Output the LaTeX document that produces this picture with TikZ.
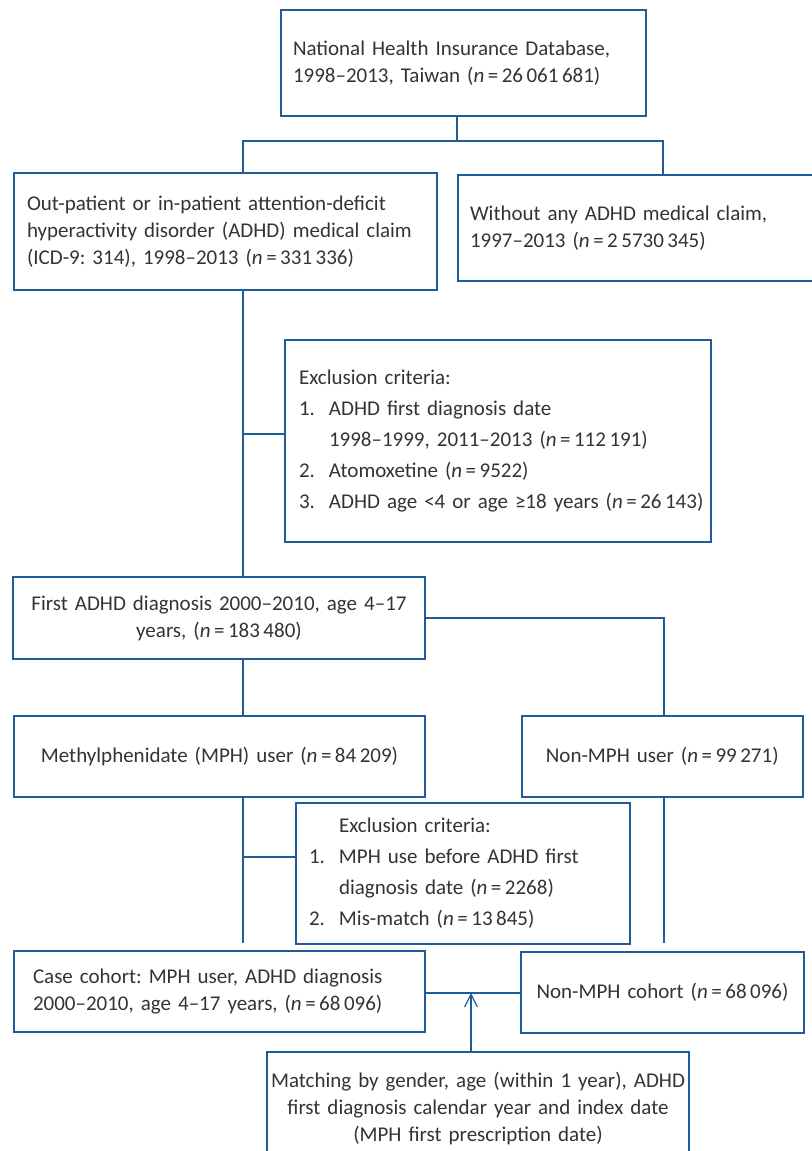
\documentclass[tikz,border=0pt]{standalone}
\usepackage{fontspec}
\setmainfont{Carlito}
\usepackage{xcolor}
\usepackage{tikz}
\usetikzlibrary{arrows.meta}
\definecolor{frameblue}{HTML}{1F5C99}
\definecolor{inkgray}{HTML}{333333}
\frenchspacing

\begin{document}
\begin{tikzpicture}[x=0.5pt, y=-0.5pt,
    flowbox/.style={shape=rectangle, draw=frameblue, line width=1pt, text=inkgray, inner ysep=0pt, align=left, font=\fontsize{10.5}{13.5}\selectfont},
    listbox/.style={flowbox, font=\fontsize{10.5}{15.5}\selectfont},
    link/.style={draw=frameblue, line width=0.9pt}]
    \useasboundingbox (0, 0) rectangle (812, 1151);
    \clip (0, 0) rectangle (812, 1151);

    \node[flowbox, minimum height=53pt, text width=170.5pt, inner xsep=6pt] (db) at (463.5, 63) {National Health Insurance Database,\\ 1998--2013, Taiwan (\textit{n}\,=\,26\,061\,681)};
    \node[flowbox, minimum height=58.5pt, text width=198.5pt, inner xsep=6.5pt] (claim) at (225.5, 231.5) {\mbox{Out-patient or in-patient attention-deficit}\\ \mbox{hyperactivity disorder (ADHD) medical claim}\\ (ICD-9: 314), 1998--2013 (\textit{n}\,=\,331\,336)};
    \node[flowbox, minimum height=53pt, text width=179pt, inner xsep=6pt] (noclaim) at (649, 228) {Without any ADHD medical claim,\\ 1997--2013 (\textit{n}\,=\,2\,5730\,345)};
    \node[listbox, minimum height=101pt, text width=198.75pt, inner xsep=7pt] (excla) at (497.75, 441) {Exclusion criteria:\\ \makebox[15pt][l]{1.}ADHD first diagnosis date\\ \hspace*{15pt}1998--1999, 2011--2013 (\textit{n}\,=\,112\,191)\\ \makebox[15pt][l]{2.}Atomoxetine (\textit{n}\,=\,9522)\\ \mbox{\makebox[15pt][l]{3.}ADHD age <4 or age ≥18 years (\textit{n}\,=\,26\,143)}};
    \node[flowbox, align=center, minimum height=41pt, text width=196pt, inner xsep=5pt] (first) at (219, 618) {First ADHD diagnosis 2000--2010, age 4--17\\ years, (\textit{n}\,=\,183\,480)};
    \node[flowbox, align=center, minimum height=40.5pt, text width=195.5pt, inner xsep=5pt] (mph) at (219.5, 756.5) {Methylphenidate (MPH) user (\textit{n}\,=\,84\,209)};
    \node[flowbox, align=center, minimum height=40.5pt, text width=130.75pt, inner xsep=5pt] (nonmph) at (662.25, 756.5) {Non-MPH user (\textit{n}\,=\,99\,271)};
    \node[listbox, minimum height=70.5pt, text width=153.5pt, inner xsep=6.75pt] (exclb) at (462.5, 873.5) {\hspace*{15pt}Exclusion criteria:\\ \makebox[15pt][l]{1.}MPH use before ADHD first\\ \hspace*{15pt}diagnosis date (\textit{n}\,=\,2268)\\ \makebox[15pt][l]{2.}Mis-match (\textit{n}\,=\,13\,845)};
    \node[flowbox, minimum height=40.5pt, text width=186.5pt, inner xsep=9.5pt] (case) at (219.5, 991.5) {Case cohort: MPH user, ADHD diagnosis\\ 2000--2010, age 4--17 years, (\textit{n}\,=\,68\,096)};
    \node[flowbox, align=center, minimum height=40.5pt, text width=135.5pt, inner xsep=3pt] (control) at (662.5, 992.5) {Non-MPH cohort (\textit{n}\,=\,68\,096)};
    \node[flowbox, align=center, minimum height=56.5pt, text width=207pt, inner xsep=2pt] (match) at (478, 1108.5) {\mbox{Matching by gender, age (within 1 year), ADHD}\\ first diagnosis calendar year and index date\\ (MPH first prescription date)};

    \coordinate (split) at (457, 141);
    \coordinate (trunk) at (243, 141);
    \coordinate (branch) at (663, 141);
    \coordinate (excljoina) at (243, 434);
    \coordinate (excljoinb) at (243, 857);
    \coordinate (trunkend) at (243, 943);
    \coordinate (branchend) at (664, 943);
    \coordinate (tip) at (471, 993);

    \draw[link] (db.south -| split) -- (split);
    \draw[link] (claim.north -| trunk) -- (trunk) -- (branch) -- (noclaim.north -| branch);
    \draw[link] (claim.south -| trunk) -- (first.north -| trunk);
    \draw[link] (excla.west |- excljoina) -- (excljoina);
    \draw[link] (first.east) -| (nonmph.north -| branchend);
    \draw[link] (first.south -| trunk) -- (mph.north -| trunk);
    \draw[link] (mph.south -| trunk) -- (trunkend);
    \draw[link] (exclb.west |- excljoinb) -- (excljoinb);
    \draw[link] (nonmph.south -| branchend) -- (branchend);
    \draw[link] (case.east |- tip) -- (control.west |- tip);
    \draw[link, line width=0.6pt, -{Straight Barb[length=6.3pt, width=6.4pt]}] (tip |- match.north) -- (tip);
\end{tikzpicture}
\end{document}
